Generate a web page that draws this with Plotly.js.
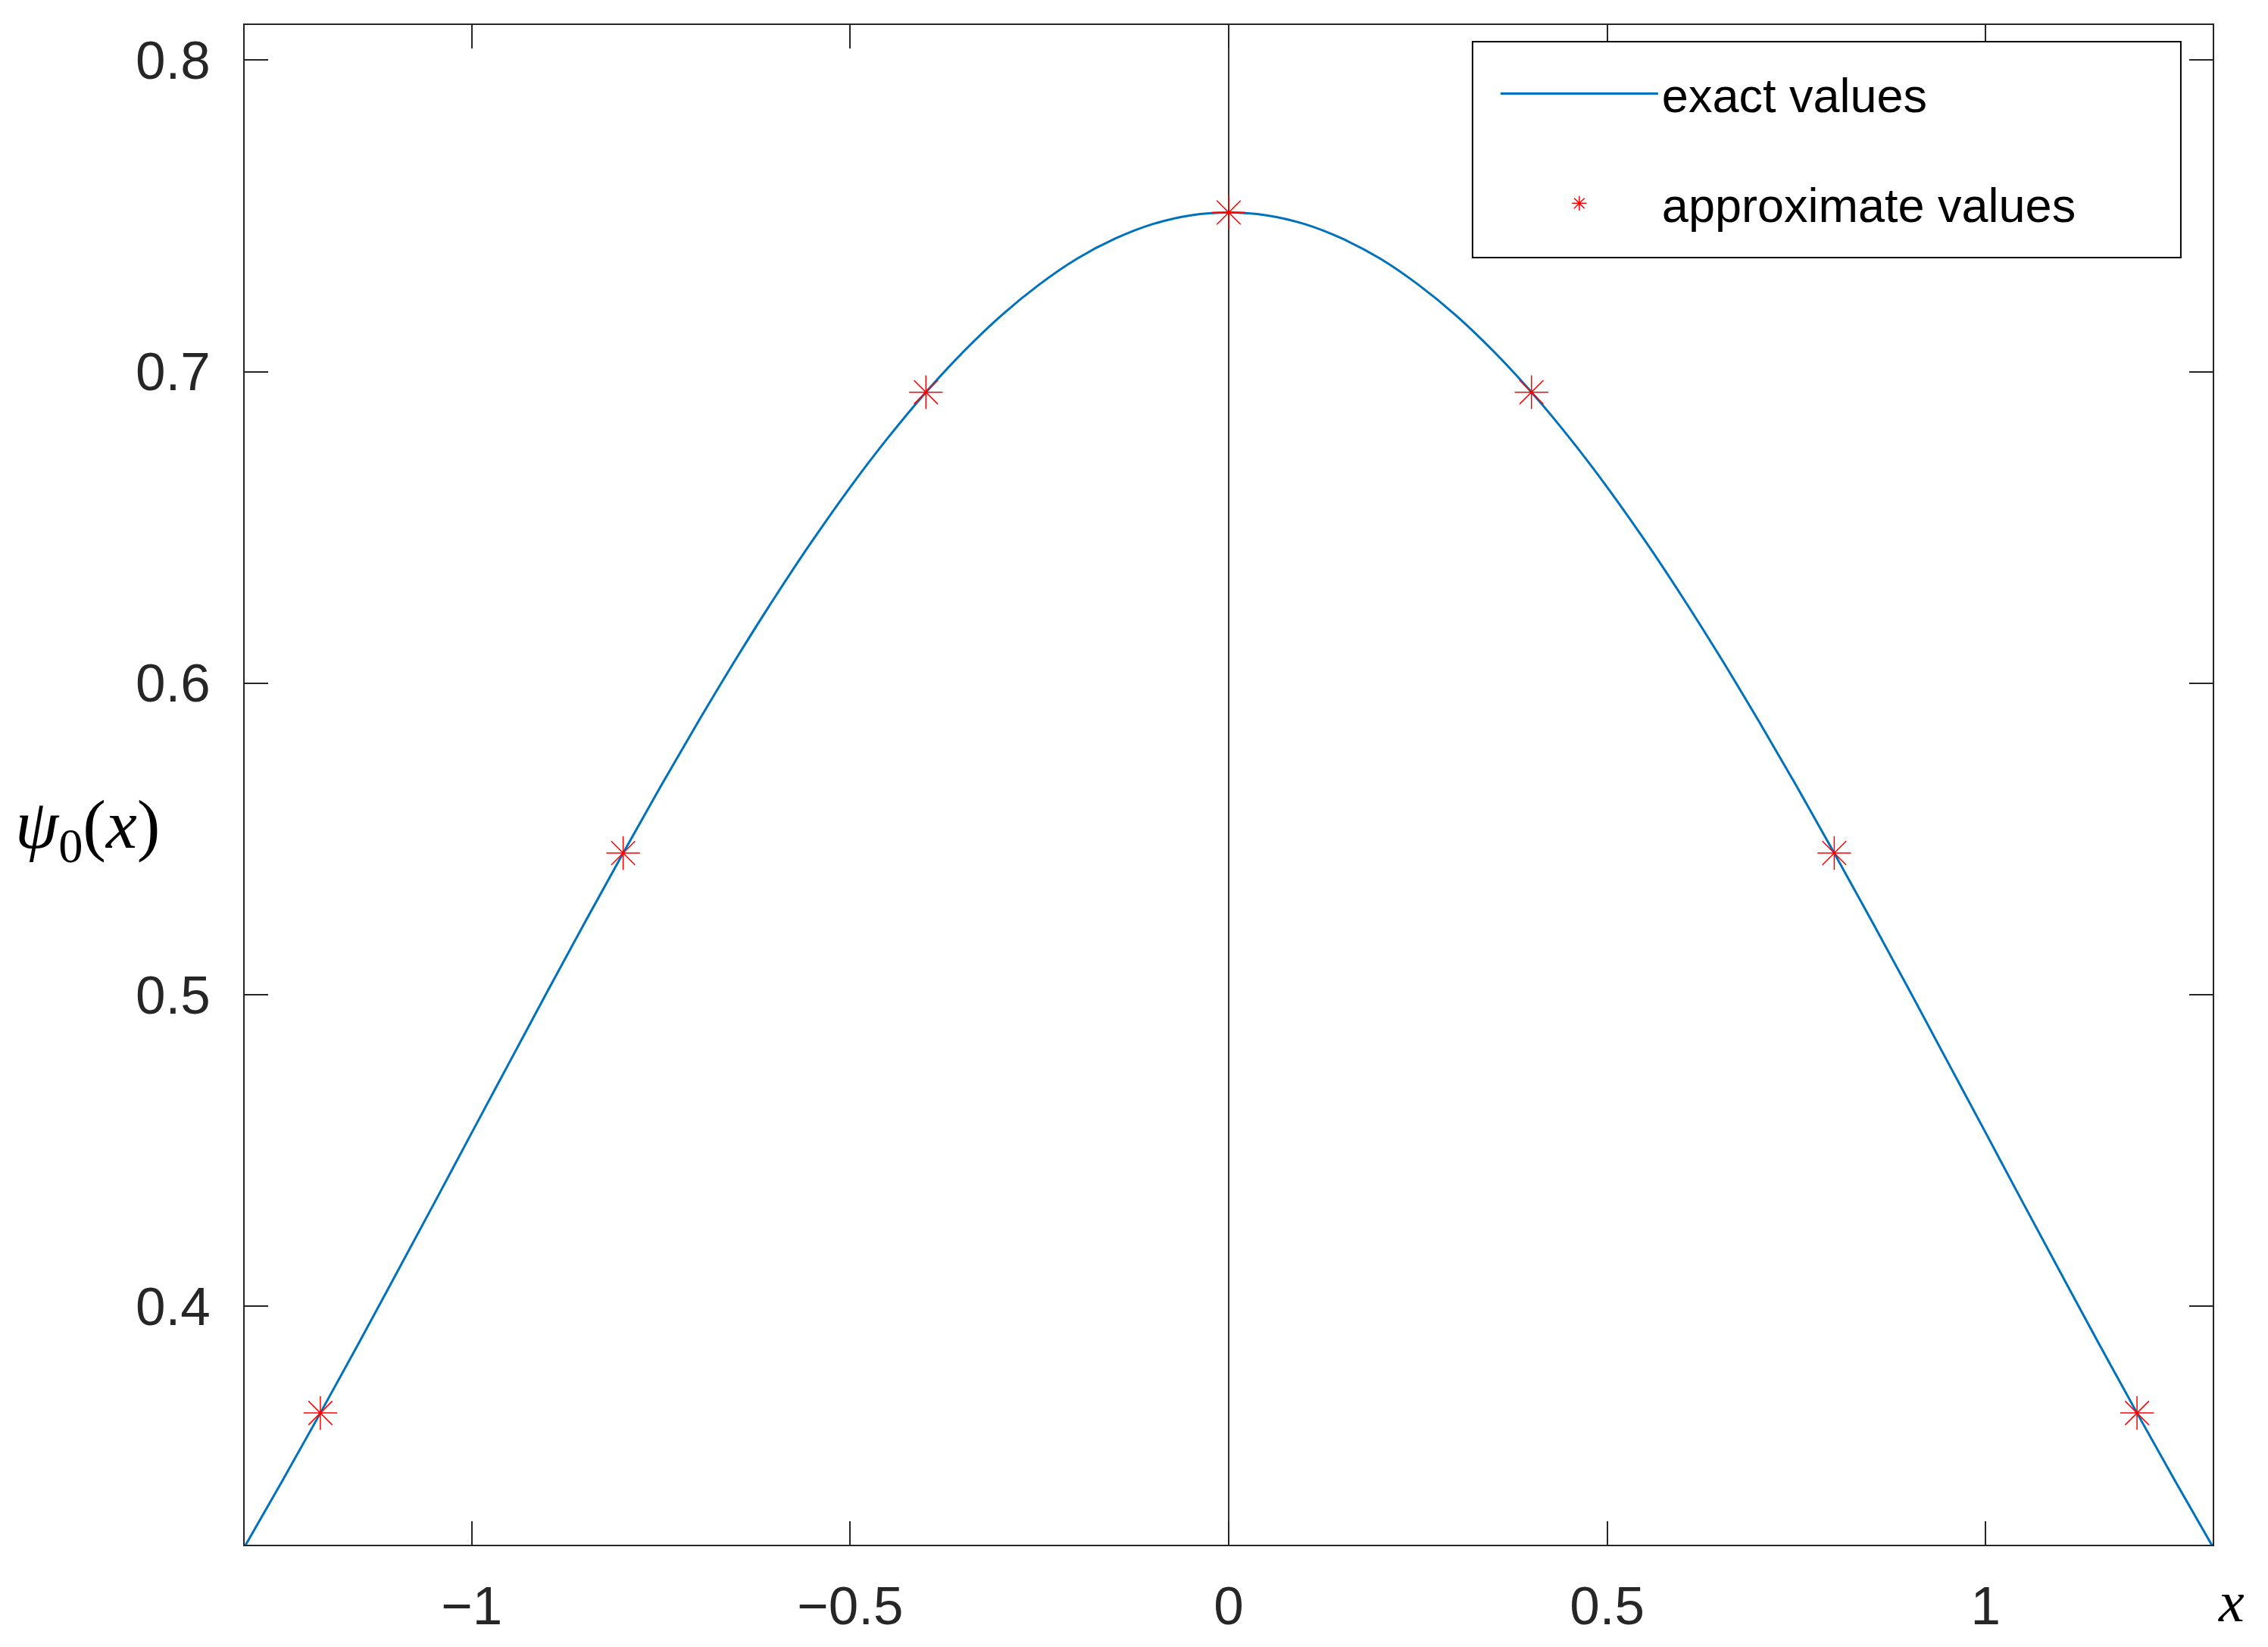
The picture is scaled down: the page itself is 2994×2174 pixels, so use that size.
<!DOCTYPE html>
<html>
<head>
<meta charset="utf-8">
<script src="https://cdn.plot.ly/plotly-3.0.1.min.js"></script>
<style>html,body{margin:0;padding:0;background:#fff;}#chart{width:2994px;height:2174px;}</style>
</head>
<body>
<div id="chart"></div>
<script>
// exact values of psi_0(x)
var exactX = [-1.3,-1.25,-1.2,-1.15,-1.1,-1.05,-1.0,-0.95,-0.9,-0.85,-0.8,-0.75,-0.7,-0.65,-0.6,-0.55,-0.5,-0.45,-0.4,-0.35,-0.3,-0.25,-0.2,-0.15,-0.1,-0.05,0,
              0.05,0.1,0.15,0.2,0.25,0.3,0.35,0.4,0.45,0.5,0.55,0.6,0.65,0.7,0.75,0.8,0.85,0.9,0.95,1.0,1.05,1.1,1.15,1.2,1.25,1.3];
var exactY = [0.3227,0.3439,0.3656,0.3877,0.4102,0.4328,0.4556,0.4783,0.5010,0.5234,0.5454,0.5670,0.5879,0.6081,0.6274,0.6457,0.6629,0.6788,0.6934,0.7065,0.7181,0.7280,0.7363,0.7427,0.7474,0.7502,0.7511,
              0.7502,0.7474,0.7427,0.7363,0.7280,0.7181,0.7065,0.6934,0.6788,0.6629,0.6457,0.6274,0.6081,0.5879,0.5670,0.5454,0.5234,0.5010,0.4783,0.4556,0.4328,0.4102,0.3877,0.3656,0.3439,0.3227];
// approximate values
var approxX = [-1.2,-0.8,-0.4,0,0.4,0.8,1.2];
var approxY = [0.3656,0.5454,0.6934,0.7511,0.6934,0.5454,0.3656];
// labels
var seriesNames = ['exact values','approximate values'];
var xTicks = [-1,-0.5,0,0.5,1];
var yTicks = [0.4,0.5,0.6,0.7,0.8];

var traces = [
  {x: exactX, y: exactY, type: 'scatter', mode: 'lines', name: seriesNames[0],
   line: {color: '#0072BD', width: 3, shape: 'spline'}, legendgroup: 'a'},
  {x: approxX, y: approxY, type: 'scatter', mode: 'markers', name: seriesNames[1],
   marker: {symbol: 'asterisk-open', size: 37, color: '#FF0000', line: {color: '#FF0000', width: 1.5}}, legendgroup: 'b'}
];

var axisCommon = {
  showgrid: false, showline: true, linecolor: '#262626', linewidth: 2,
  mirror: 'ticks', ticks: 'inside', ticklen: 31, tickwidth: 2, tickcolor: '#262626',
  tickfont: {family: 'Liberation Sans, Arial, sans-serif', size: 71, color: '#262626'}
};

var layout = {
  width: 2994, height: 2174,
  margin: {l: 323, r: 73, t: 33, b: 135},
  paper_bgcolor: '#fff', plot_bgcolor: '#fff',
  showlegend: true,
  xaxis: Object.assign({}, axisCommon, {
    range: [-1.3, 1.3], tickvals: xTicks, zeroline: true, zerolinecolor: '#333333', zerolinewidth: 1.5,
    ticklabelstandoff: 18
  }),
  yaxis: Object.assign({}, axisCommon, {
    range: [0.3233, 0.8113], tickvals: yTicks, ticktext: yTicks.map(function(v){return v.toFixed(1);}), zeroline: false,
    ticklabelstandoff: 29
  }),
  legend: {
    x: 0.6362, xanchor: 'left', y: 0.9786, yanchor: 'top',
    bgcolor: 'rgba(0,0,0,0)', borderwidth: 0,
    font: {family: 'Liberation Sans, Arial, sans-serif', size: 63, color: '#000'},
    itemwidth: 208, traceorder: 'grouped', tracegroupgap: 60
  },
  shapes: [
    {type: 'rect', xref: 'paper', yref: 'paper', x0: 0.6239, x1: 0.9838, y0: 0.8470, y1: 0.989,
     fillcolor: '#fff', line: {color: '#000', width: 2}, layer: 'above'}
  ],
  annotations: [
    {xref: 'paper', yref: 'paper', x: -0.0799, y: 0.471, xanchor: 'center', yanchor: 'middle',
     text: '<i>ψ</i><sub>0</sub>(<i>x</i>)', showarrow: false,
     font: {family: 'Liberation Serif, Times New Roman, serif', size: 92, color: '#000'}},
    {xref: 'paper', yref: 'paper', x: 1.0096, y: -0.0374, xanchor: 'center', yanchor: 'middle',
     text: '<i>x</i>', showarrow: false,
     font: {family: 'Liberation Serif, Times New Roman, serif', size: 76, color: '#000'}}
  ]
};

Plotly.newPlot('chart', traces, layout, {displayModeBar: false, staticPlot: true});
</script>
</body>
</html>
